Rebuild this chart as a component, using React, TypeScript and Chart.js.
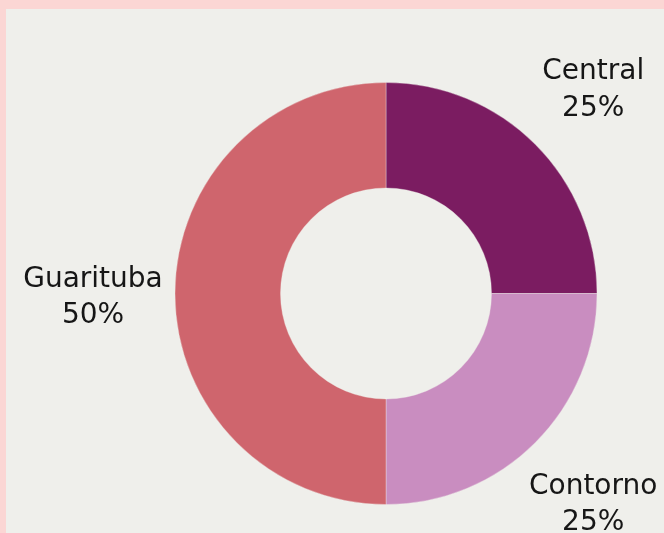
import React, { useEffect, useRef } from "react";
import { Chart, registerables } from "chart.js";

Chart.register(...registerables);

const categories = ["Central", "Contorno", "Guarituba"];
const values = [25, 25, 50];
const percentLabels = ["25%", "25%", "50%"];
const colors = ["#7b1c61", "#c98dc0", "#cf656d"];

const outsideLabels = {
  id: "outsideLabels",
  afterDatasetsDraw(chart: any) {
    const ctx = chart.ctx;
    const meta = chart.getDatasetMeta(0);
    ctx.save();
    ctx.font = '28px "DejaVu Sans"';
    ctx.fillStyle = "#161616";
    ctx.textAlign = "center";
    ctx.textBaseline = "middle";
    const lh = 36.5;
    meta.data.forEach((arc: any, i: number) => {
      const p = arc.getProps(["startAngle", "endAngle", "outerRadius", "x", "y"], true);
      const mid = (p.startAngle + p.endAngle) / 2;
      const r = p.outerRadius + 82;
      const cx = p.x + Math.cos(mid) * r;
      const cy = p.y + Math.sin(mid) * r + 4;
      ctx.fillText(categories[i], cx, cy - lh / 2);
      ctx.fillText(percentLabels[i], cx, cy + lh / 2);
    });
    ctx.restore();
  },
};

export default function App() {
  const ref = useRef<HTMLCanvasElement>(null);
  useEffect(() => {
    if (!ref.current) return;
    const chart = new Chart(ref.current, {
      type: "doughnut",
      data: {
        labels: categories,
        datasets: [
          {
            data: values,
            backgroundColor: colors,
            borderColor: "rgba(240,240,236,0.35)",
            borderWidth: 1,
          },
        ],
      },
      options: {
        responsive: false,
        animation: false,
        cutout: "50%",
        layout: { padding: { top: 82, bottom: 28, left: 174, right: 66 } },
        plugins: {
          legend: { display: false },
          tooltip: { enabled: false },
        },
      },
      plugins: [outsideLabels],
    });
    return () => chart.destroy();
  }, []);

  return (
    <div style={{ position: "fixed", left: 0, top: 0, width: 664, height: 533, background: "#fbd6d4", overflow: "hidden" }}>
      <div style={{ position: "absolute", left: 6, top: 9, right: 0, bottom: 0, background: "#efefeb" }} />
      <canvas ref={ref} width={664} height={533} style={{ position: "absolute", left: 0, top: 0, width: 664, height: 533 }} />
    </div>
  );
}
